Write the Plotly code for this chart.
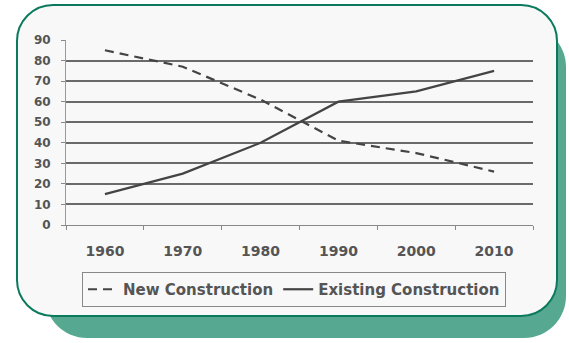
import plotly.graph_objects as go

years = ["1960", "1970", "1980", "1990", "2000", "2010"]
new_construction = [85, 77, 61, 41, 35, 26]
existing_construction = [15, 25, 40, 60, 65, 75]
y_ticks = [0, 10, 20, 30, 40, 50, 60, 70, 80, 90]

W, H = 569, 343
L, T = 66, 40
R = W - 533
B = H - 225
PW, PH = W - L - R, H - T - B


def px(x):
    return (x - L) / PW


def py(y):
    return (H - B - y) / PH


def rrect(x0, y0, x1, y1, r):
    k = 0.5523 * r
    s = f"M {px(x0 + r)},{py(y0)} L {px(x1 - r)},{py(y0)} "
    s += f"C {px(x1 - r + k)},{py(y0)} {px(x1)},{py(y0 + r - k)} {px(x1)},{py(y0 + r)} "
    s += f"L {px(x1)},{py(y1 - r)} "
    s += f"C {px(x1)},{py(y1 - r + k)} {px(x1 - r + k)},{py(y1)} {px(x1 - r)},{py(y1)} "
    s += f"L {px(x0 + r)},{py(y1)} "
    s += f"C {px(x0 + r - k)},{py(y1)} {px(x0)},{py(y1 - r + k)} {px(x0)},{py(y1 - r)} "
    s += f"L {px(x0)},{py(y0 + r)} "
    s += f"C {px(x0)},{py(y0 + r - k)} {px(x0 + r - k)},{py(y0)} {px(x0 + r)},{py(y0)} Z"
    return s


fig = go.Figure()
fig.add_trace(go.Scatter(
    x=years, y=new_construction, mode="lines", name="New Construction",
    line=dict(color="#444444", width=2.2, dash="9px,6px"),
))
fig.add_trace(go.Scatter(
    x=years, y=existing_construction, mode="lines", name="Existing Construction",
    line=dict(color="#444444", width=2.2),
))

fig.update_layout(
    width=W, height=H,
    margin=dict(l=L, r=R, t=T, b=B, pad=0, autoexpand=False),
    paper_bgcolor="white",
    plot_bgcolor="rgba(0,0,0,0)",
    font=dict(family="DejaVu Sans", color="#555555"),
    shapes=[
        dict(type="path", xref="paper", yref="paper", layer="below",
             path=rrect(45, 25, 566, 338, 42), fillcolor="#56a890",
             line=dict(width=0)),
        dict(type="path", xref="paper", yref="paper", layer="below",
             path=rrect(17, 5, 557, 316, 36), fillcolor="#f8f8f8",
             line=dict(color="#0b7a5c", width=2)),
    ],
    legend=dict(
        orientation="h", x=px(82), y=py(272), xanchor="left", yanchor="top",
        bgcolor="rgba(0,0,0,0)", bordercolor="#888888", borderwidth=1,
        font=dict(family="DejaVu Sans", size=15, color="#555555", weight="bold"),
        itemwidth=30,
    ),
    xaxis=dict(
        type="category", range=[-0.5, 5.5],
        showgrid=False, showline=True, linecolor="#888888", linewidth=1,
        ticks="outside", ticklen=4, tickcolor="#888888", tickson="boundaries",
        tickfont=dict(family="DejaVu Sans", size=14, color="#555555", weight="bold"),
        ticklabelstandoff=13,
    ),
    yaxis=dict(
        range=[0, 90], tickvals=y_ticks, showgrid=True,
        gridcolor="#6a6a6a", gridwidth=1.8, zeroline=False,
        showline=True, linecolor="#999999", linewidth=1,
        ticks="outside", ticklen=4, tickcolor="#888888",
        tickfont=dict(family="DejaVu Sans", size=12, color="#555555", weight="bold"),
        ticklabelstandoff=8,
    ),
)

fig.write_html(
    "out.html",
    config={"displayModeBar": False},
    post_script="document.body.style.margin='0';document.body.style.overflow='hidden';",
)
